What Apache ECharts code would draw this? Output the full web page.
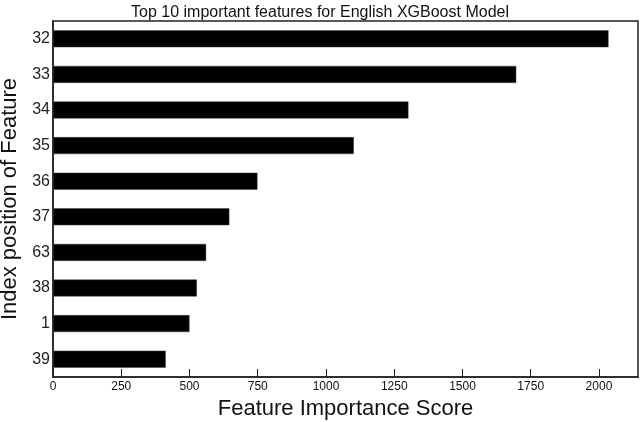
<!DOCTYPE html>
<html>
<head>
<meta charset="utf-8">
<script src="https://cdn.jsdelivr.net/npm/echarts@6/dist/echarts.min.js"></script>
<style>html,body{margin:0;padding:0;background:#fff;}#c{width:640px;height:422px;}</style>
</head>
<body>
<div id="c"></div>
<script>
const categories = ['32', '33', '34', '35', '36', '37', '63', '38', '1', '39'];
const scores = [2035, 1697, 1302, 1102, 749, 646, 561, 527, 500, 413];
const xTicks = [0, 250, 500, 750, 1000, 1250, 1500, 1750, 2000];

const FONT = '"Liberation Sans Narrow", "Liberation Sans", Arial, sans-serif';
const chart = echarts.init(document.getElementById('c'), null, {renderer: 'canvas'});
chart.setOption({
  animation: false,
  backgroundColor: '#fff',
  title: {
    text: 'Top 10 important features for English XGBoost Model',
    left: 'center', top: 0,
    textStyle: {fontFamily: FONT, fontSize: 16, fontWeight: 'normal', color: '#111'}
  },
  grid: {left: 53, right: 2, top: 21, bottom: 45, containLabel: false, outerBoundsMode: 'none',
    show: true, borderColor: '#222', borderWidth: 1.5, backgroundColor: 'transparent'},
  xAxis: {
    type: 'value', min: 0, max: 2143, interval: 250,
    name: 'Feature Importance Score', nameLocation: 'middle', nameGap: 20,
    nameTextStyle: {fontFamily: 'Liberation Sans, Arial, sans-serif', fontSize: 22, color: '#111'},
    splitLine: {show: false},
    axisLine: {show: true, lineStyle: {color: '#222', width: 1.5}},
    axisTick: {show: true, inside: true, length: 8, lineStyle: {color: '#222'}},
    axisLabel: {
      fontFamily: FONT, fontSize: 12, color: '#111', margin: 4,
      showMaxLabel: false,
      formatter: v => xTicks.indexOf(v) >= 0 ? String(v) : ''
    }
  },
  yAxis: {
    type: 'category', data: categories, inverse: true,
    name: 'Index position of Feature', nameLocation: 'middle', nameGap: 30, nameRotate: 90,
    nameTextStyle: {fontFamily: 'Liberation Sans, Arial, sans-serif', fontSize: 22, color: '#111'},
    axisLine: {show: true, lineStyle: {color: '#222', width: 1.5}},
    axisTick: {show: false},
    axisLabel: {fontFamily: 'Liberation Sans, Arial, sans-serif', fontSize: 16, color: '#222', margin: 3}
  },
  series: [{
    type: 'bar', data: scores, barWidth: 17,
    itemStyle: {color: '#000', borderColor: '#444', borderWidth: 0.5}
  }]
});
</script>
</body>
</html>
